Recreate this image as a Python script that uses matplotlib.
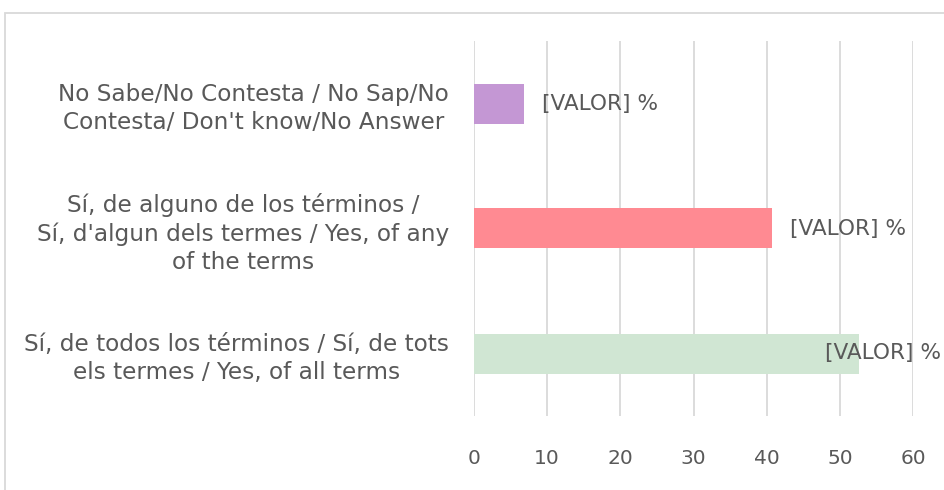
import matplotlib
matplotlib.use('Agg')
import matplotlib.pyplot as plt
from matplotlib.patches import Rectangle

# datos (de abajo hacia arriba)
categorias = [
    'Sí, de todos los términos / Sí, de tots\nels termes / Yes, of all terms',
    "Sí, de alguno de los términos /\nSí, d'algun dels termes / Yes, of any\nof the terms",
    "No Sabe/No Contesta / No Sap/No\nContesta/ Don't know/No Answer",
]
valores = [52.6, 40.7, 6.8]
etiquetas = ['[VALOR] %', '[VALOR] %', '[VALOR] %']
colores = ['#d0e6d3', '#ff8a92', '#c497d4']
x_ticks = [0, 10, 20, 30, 40, 50, 60]

# desplazamiento de la etiqueta respecto al final de la barra (px)
desplaz = [-34, 18, 18]

texto = '#595959'
rejilla = '#d9d9d9'
plt.rcParams['font.family'] = ['DejaVu Sans']

fig = plt.figure(figsize=(9.44, 4.90), dpi=100)
ax = fig.add_axes([474/944, 1 - 416/490, (913 - 474)/944, (416 - 41)/490])

# marco del grafico
fig.patches.append(Rectangle((5/944, -0.1), 1.2, 1 - 13/490 + 0.1,
                             transform=fig.transFigure, fill=False,
                             edgecolor=rejilla, linewidth=1.3))

y = range(len(categorias))
barras = ax.barh(y, valores, height=0.32, color=colores, zorder=2)

for b, v, et, d in zip(barras, valores, etiquetas, desplaz):
    ax.annotate(et, (v, b.get_y() + b.get_height()/2),
                xytext=(d*0.72, 0), textcoords='offset points',
                ha='left', va='center', fontsize=15.6, color=texto,
                annotation_clip=False, zorder=3)

ax.set_xlim(0, 60)
ax.set_ylim(-0.5, 2.5)
ax.set_xticks(x_ticks)
ax.set_yticks(list(y))
ax.set_yticklabels(categorias, fontsize=16.7, color=texto,
                   multialignment='center', linespacing=1.28)
ax.tick_params(axis='x', length=0, pad=24, labelsize=14.5, labelcolor=texto)
ax.tick_params(axis='y', length=0, pad=18)
ax.grid(axis='x', color=rejilla, linewidth=1.3, zorder=0)
for s in ax.spines.values():
    s.set_visible(False)

fig.savefig('out.png', dpi=100)
